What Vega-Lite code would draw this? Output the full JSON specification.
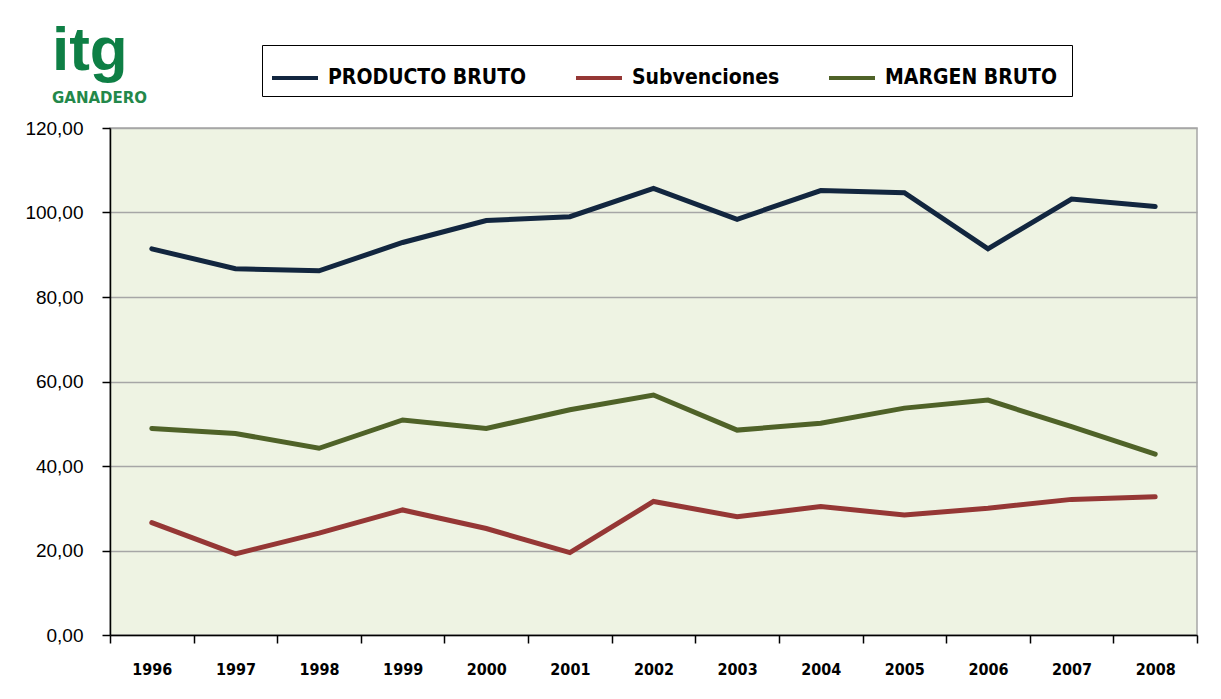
{
  "$schema": "https://vega.github.io/schema/vega-lite/v6.json",
  "width": 1087,
  "height": 507,
  "autosize": "none",
  "padding": {"left": 110, "top": 128, "right": 24, "bottom": 64},
  "background": "white",
  "title": {
    "text": "itg",
    "subtitle": "GANADERO",
    "anchor": "start",
    "frame": "group",
    "dx": -58,
    "dy": 66,
    "fontSize": 62,
    "font": "Liberation Sans",
    "fontWeight": "bold",
    "color": "#0E7F45",
    "subtitleFont": "DejaVu Sans",
    "subtitleFontSize": 15,
    "subtitleFontWeight": "bold",
    "subtitleColor": "#23884A",
    "subtitlePadding": 8
  },
  "config": {
    "locale": {"number": {"decimal": ",", "thousands": ".", "grouping": [3], "currency": ["", " €"]}},
    "view": {"fill": "#EEF3E3", "stroke": "#A6A6A6", "strokeWidth": 1.5},
    "axis": {"labelColor": "black", "tickColor": "black", "domainColor": "black", "domainWidth": 1.5, "tickWidth": 1.5, "tickSize": 8, "titleColor": "black"}
  },
  "data": {
    "values": [
      {"year": "1996", "serie": "PRODUCTO BRUTO", "value": 91.4},
      {"year": "1997", "serie": "PRODUCTO BRUTO", "value": 86.7},
      {"year": "1998", "serie": "PRODUCTO BRUTO", "value": 86.2},
      {"year": "1999", "serie": "PRODUCTO BRUTO", "value": 92.9},
      {"year": "2000", "serie": "PRODUCTO BRUTO", "value": 98.1},
      {"year": "2001", "serie": "PRODUCTO BRUTO", "value": 99.0},
      {"year": "2002", "serie": "PRODUCTO BRUTO", "value": 105.7},
      {"year": "2003", "serie": "PRODUCTO BRUTO", "value": 98.4},
      {"year": "2004", "serie": "PRODUCTO BRUTO", "value": 105.2},
      {"year": "2005", "serie": "PRODUCTO BRUTO", "value": 104.7},
      {"year": "2006", "serie": "PRODUCTO BRUTO", "value": 91.4},
      {"year": "2007", "serie": "PRODUCTO BRUTO", "value": 103.2},
      {"year": "2008", "serie": "PRODUCTO BRUTO", "value": 101.4},
      {"year": "1996", "serie": "Subvenciones", "value": 26.6},
      {"year": "1997", "serie": "Subvenciones", "value": 19.2},
      {"year": "1998", "serie": "Subvenciones", "value": 24.1},
      {"year": "1999", "serie": "Subvenciones", "value": 29.6},
      {"year": "2000", "serie": "Subvenciones", "value": 25.2},
      {"year": "2001", "serie": "Subvenciones", "value": 19.5},
      {"year": "2002", "serie": "Subvenciones", "value": 31.6},
      {"year": "2003", "serie": "Subvenciones", "value": 28.0},
      {"year": "2004", "serie": "Subvenciones", "value": 30.4},
      {"year": "2005", "serie": "Subvenciones", "value": 28.4},
      {"year": "2006", "serie": "Subvenciones", "value": 30.0},
      {"year": "2007", "serie": "Subvenciones", "value": 32.1},
      {"year": "2008", "serie": "Subvenciones", "value": 32.7},
      {"year": "1996", "serie": "MARGEN  BRUTO", "value": 48.9},
      {"year": "1997", "serie": "MARGEN  BRUTO", "value": 47.7},
      {"year": "1998", "serie": "MARGEN  BRUTO", "value": 44.2},
      {"year": "1999", "serie": "MARGEN  BRUTO", "value": 50.9},
      {"year": "2000", "serie": "MARGEN  BRUTO", "value": 48.9},
      {"year": "2001", "serie": "MARGEN  BRUTO", "value": 53.3},
      {"year": "2002", "serie": "MARGEN  BRUTO", "value": 56.8},
      {"year": "2003", "serie": "MARGEN  BRUTO", "value": 48.5},
      {"year": "2004", "serie": "MARGEN  BRUTO", "value": 50.1},
      {"year": "2005", "serie": "MARGEN  BRUTO", "value": 53.7},
      {"year": "2006", "serie": "MARGEN  BRUTO", "value": 55.6},
      {"year": "2007", "serie": "MARGEN  BRUTO", "value": 49.3},
      {"year": "2008", "serie": "MARGEN  BRUTO", "value": 42.8}
    ]
  },
  "mark": {"type": "line", "strokeWidth": 5, "strokeCap": "round", "strokeJoin": "miter"},
  "encoding": {
    "x": {
      "field": "year",
      "type": "ordinal",
      "scale": {"type": "band", "paddingInner": 0, "paddingOuter": 0},
      "axis": {
        "title": null,
        "labelAngle": 0,
        "tickBand": "extent",
        "labelFont": "DejaVu Sans Condensed, Liberation Sans, sans-serif",
        "labelFontWeight": "bold",
        "labelFontSize": 16,
        "labelPadding": 18,
        "grid": false
      }
    },
    "y": {
      "field": "value",
      "type": "quantitative",
      "scale": {"domain": [0, 120], "nice": false},
      "axis": {
        "title": null,
        "values": [0, 20, 40, 60, 80, 100, 120],
        "format": ".2f",
        "labelFont": "Liberation Sans",
        "labelFontSize": 19,
        "labelPadding": 19,
        "grid": true,
        "gridColor": "#A6A6A6",
        "gridWidth": 1.5
      }
    },
    "color": {
      "field": "serie",
      "type": "nominal",
      "sort": ["PRODUCTO BRUTO", "Subvenciones", "MARGEN  BRUTO"],
      "scale": {
        "domain": ["PRODUCTO BRUTO", "Subvenciones", "MARGEN  BRUTO"],
        "range": ["#12263F", "#953735", "#4F6228"]
      },
      "legend": {
        "title": null,
        "orient": "none",
        "legendX": 152,
        "legendY": -83,
        "direction": "horizontal",
        "symbolType": "stroke",
        "symbolSize": 2116,
        "symbolStrokeWidth": 4,
        "labelFont": "DejaVu Sans Condensed, Liberation Sans, sans-serif",
        "labelFontWeight": "bold",
        "labelFontSize": 21,
        "labelColor": "black",
        "labelLimit": 300,
        "labelOffset": 8,
        "columnPadding": 41,
        "padding": 8,
        "strokeColor": "black",
        "fillColor": "white"
      }
    }
  }
}
